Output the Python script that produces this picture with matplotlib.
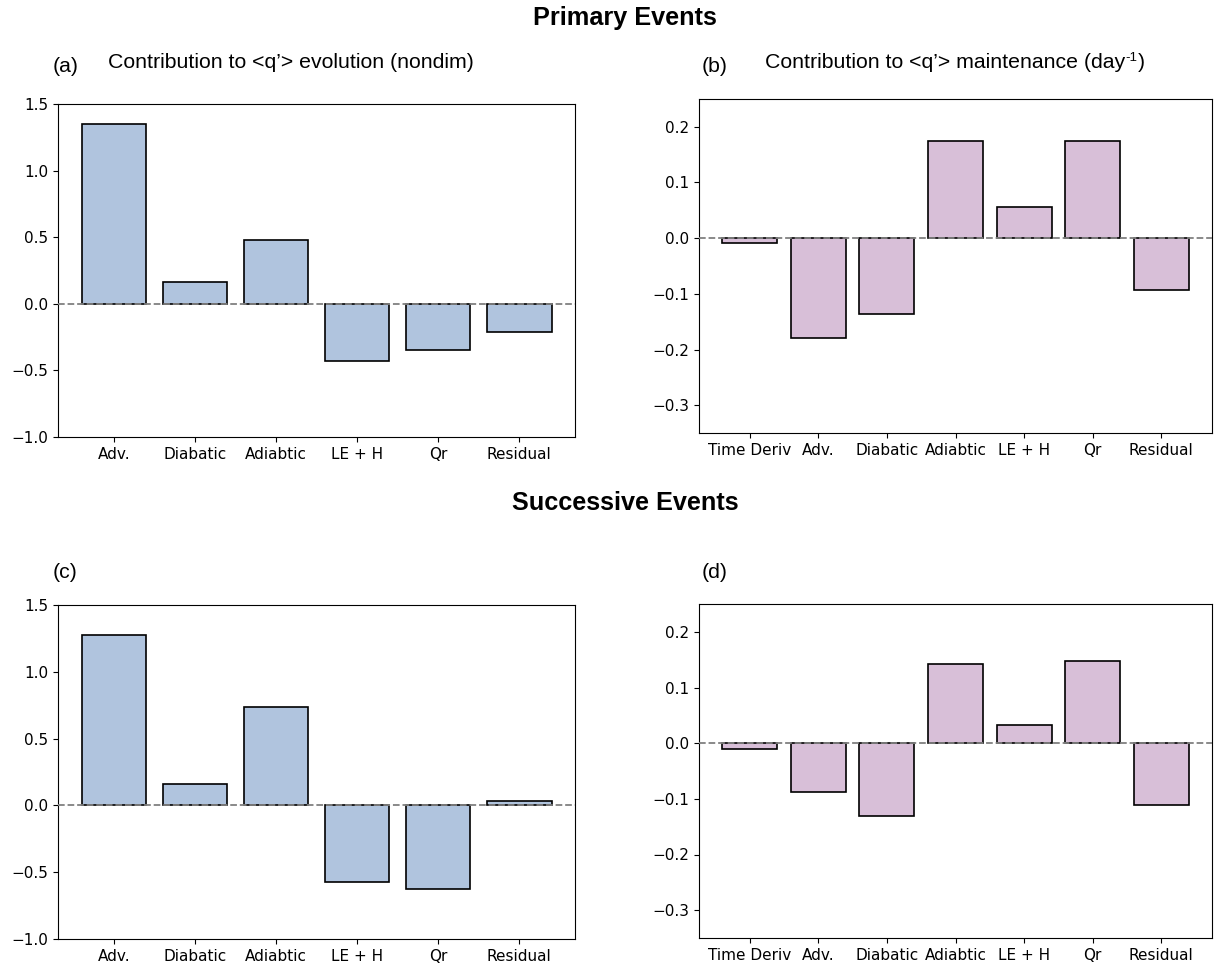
import matplotlib
matplotlib.use("Agg")
import matplotlib.pyplot as plt
from matplotlib.text import Annotation

# Budget terms
evol_terms = ["Adv.", "Diabatic", "Adiabtic", "LE + H", "Qr", "Residual"]
maint_terms = ["Time Deriv", "Adv.", "Diabatic", "Adiabtic", "LE + H", "Qr", "Residual"]

# Primary events
primary_evol = [1.35, 0.16, 0.48, -0.43, -0.345, -0.21]
primary_maint = [-0.008, -0.180, -0.137, 0.174, 0.056, 0.174, -0.093]

# Successive events
successive_evol = [1.275, 0.16, 0.735, -0.573, -0.623, 0.035]
successive_maint = [-0.010, -0.087, -0.131, 0.142, 0.032, 0.148, -0.111]

plt.rcParams["font.family"] = ["DejaVu Sans"]

W, H = 1218, 969
fig = plt.figure(figsize=(W / 100, H / 100), dpi=100)

HEAD = "Liberation Sans"


def box(x0, y0, x1, y1):
    return [x0 / W, 1 - y1 / H, (x1 - x0) / W, (y1 - y0) / H]


def bar_panel(ax, labels, values, color, ylim, yticks):
    x = range(len(values))
    ax.bar(x, values, width=0.8, color=color, edgecolor="black", linewidth=1.2, zorder=2)
    ax.axhline(0, color="grey", linestyle="--", linewidth=1.3, zorder=3)
    ax.set_xticks(list(x))
    ax.set_xticklabels(labels)
    ax.set_ylim(*ylim)
    ax.set_yticks(yticks)
    ax.tick_params(labelsize=11)


evol_ylim = (-1.0, 1.5)
evol_ticks = [-1.0, -0.5, 0.0, 0.5, 1.0, 1.5]
maint_ylim = (-0.35, 0.25)
maint_ticks = [-0.3, -0.2, -0.1, 0.0, 0.1, 0.2]

blue = "#B0C4DE"
pink = "#D8BFD8"

ax_a = fig.add_axes(box(58, 104, 575, 437))
bar_panel(ax_a, evol_terms, primary_evol, blue, evol_ylim, evol_ticks)
ax_b = fig.add_axes(box(699, 99, 1212, 433))
bar_panel(ax_b, maint_terms, primary_maint, pink, maint_ylim, maint_ticks)
ax_c = fig.add_axes(box(58, 605, 575, 939))
bar_panel(ax_c, evol_terms, successive_evol, blue, evol_ylim, evol_ticks)
ax_d = fig.add_axes(box(699, 604, 1212, 938))
bar_panel(ax_d, maint_terms, successive_maint, pink, maint_ylim, maint_ticks)


def ftext(px, py, s, **kw):
    return fig.text(px / W, 1 - py / H, s, family=HEAD, va="center", **kw)


ftext(625, 18, "Primary Events", ha="center", fontsize=18.2, fontweight="bold")
ftext(625, 503, "Successive Events", ha="center", fontsize=18.2, fontweight="bold")

ftext(53, 66, "(a)", ha="left", fontsize=15.3)
ftext(108, 63, "Contribution to <q\u2019> evolution (nondim)", ha="left", fontsize=15.3)
ftext(702, 66, "(b)", ha="left", fontsize=15.3)

# Title with a small "-1" exponent on the unit
t_main = ftext(765, 63, "Contribution to <q\u2019> maintenance (day", ha="left", fontsize=15.3)
sup = fig.add_artist(
    Annotation("-1", xy=(1.0, 0.45), xycoords=t_main, family=HEAD,
               fontsize=9.5, ha="left", va="bottom",
               xytext=(0.5, 0), textcoords="offset points")
)
fig.add_artist(
    Annotation(")", xy=(1.0, 0.5), xycoords=(sup, t_main), family=HEAD,
               fontsize=15.3, ha="left", va="center")
)

ftext(53, 573, "(c)", ha="left", fontsize=15.3)
ftext(702, 573, "(d)", ha="left", fontsize=15.3)

fig.savefig("out.png", dpi=100)
